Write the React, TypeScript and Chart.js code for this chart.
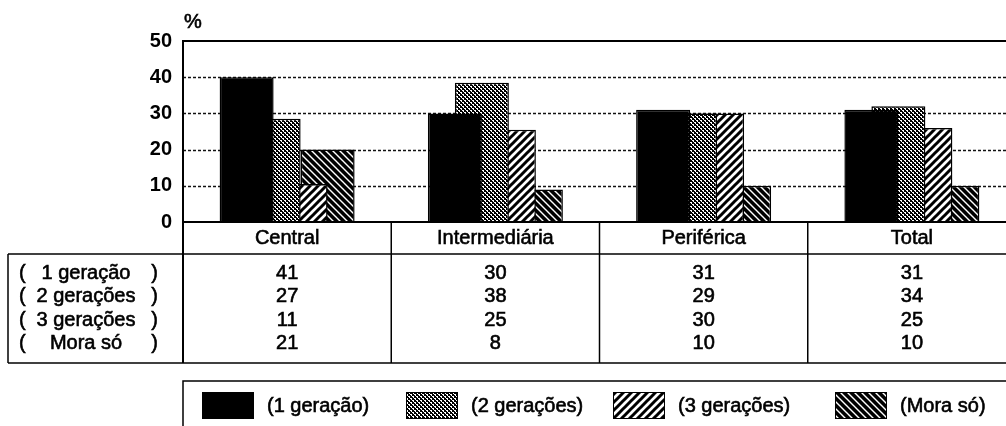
import React, { useEffect, useRef } from 'react';
import { Chart, registerables } from 'chart.js';

Chart.register(...registerables);

// ---- data ----
const categories = ['Central', 'Intermediária', 'Periférica', 'Total'];
const legendLabels = ['(1 geração)', '(2 gerações)', '(3 gerações)', '(Mora só)'];
const rowLabels = ['1 geração', '2 gerações', '3 gerações', 'Mora só'];

// bar heights as drawn
const bars1Geracao = [40, 30, 31, 31];
const bars2Geracoes = [28.5, 38.5, 30, 32];
const bars3Geracoes = [10.5, 25.5, 30, 26];
const barsMoraSo = [20, 9, 10, 10];

// values printed in the table
const table1Geracao = [41, 30, 31, 31];
const table2Geracoes = [27, 38, 29, 34];
const table3Geracoes = [11, 25, 30, 25];
const tableMoraSo = [21, 8, 10, 10];

const yTickValues = [0, 10, 20, 30, 40, 50];
const gridValues = [10, 20, 30, 40];

const FONT = '"Liberation Sans", Arial, Helvetica, sans-serif';
const CW = 1030;
const CH = 426;

function makePatterns() {
  const mk = (size: number, draw: (c: CanvasRenderingContext2D) => void) => {
    const cv = document.createElement('canvas');
    cv.width = size;
    cv.height = size;
    const c = cv.getContext('2d')!;
    draw(c);
    return c.createPattern(cv, 'repeat')!;
  };
  const mesh = mk(4, (c) => {
    c.fillStyle = '#000';
    c.fillRect(0, 0, 4, 4);
    c.fillStyle = '#fff';
    c.fillRect(0, 0, 2, 1);
    c.fillRect(2, 2, 2, 1);
    c.fillRect(1, 1, 1, 1);
    c.fillRect(3, 3, 1, 1);
  });
  const slash = mk(8, (c) => {
    c.fillStyle = '#fff';
    c.fillRect(0, 0, 8, 8);
    c.strokeStyle = '#000';
    c.lineWidth = 3;
    c.beginPath();
    c.moveTo(-1, 9); c.lineTo(9, -1);
    c.moveTo(-5, 5); c.lineTo(5, -5);
    c.moveTo(3, 13); c.lineTo(13, 3);
    c.stroke();
  });
  const back = mk(7, (c) => {
    c.fillStyle = '#000';
    c.fillRect(0, 0, 7, 7);
    c.strokeStyle = '#fff';
    c.lineWidth = 1.4;
    c.beginPath();
    c.moveTo(-1, -1); c.lineTo(8, 8);
    c.moveTo(-4.5, 2.5); c.lineTo(2.5, 9.5);
    c.moveTo(2.5, -4.5); c.lineTo(9.5, 2.5);
    c.stroke();
  });
  return { solid: '#000', mesh, slash, back };
}

export default function App() {
  const ref = useRef<HTMLCanvasElement>(null);

  useEffect(() => {
    const canvas = ref.current!;
    const p = makePatterns();
    const fills: any[] = [p.solid, p.mesh, p.slash, p.back];
    const tableRows = [table1Geracao, table2Geracoes, table3Geracoes, tableMoraSo];

    const overlay = {
      id: 'overlay',
      beforeDatasetsDraw(chart: any) {
        const { ctx, chartArea, scales } = chart;
        const y = scales.y;
        ctx.save();
        ctx.strokeStyle = '#111';
        ctx.lineWidth = 1.5;
        ctx.setLineDash([3, 2]);
        for (const v of gridValues) {
          const py = Math.round(y.getPixelForValue(v)) + 0.5;
          ctx.beginPath();
          ctx.moveTo(chartArea.left, py);
          ctx.lineTo(CW, py);
          ctx.stroke();
        }
        ctx.restore();
      },
      afterDraw(chart: any) {
        const { ctx, chartArea, scales } = chart;
        const x = scales.x;
        const y = scales.y;
        const left = chartArea.left;
        const top = y.getPixelForValue(50);
        const zero = y.getPixelForValue(0);
        const headerBottom = 254;
        const tableBottom = 363;
        const line = (x1: number, y1: number, x2: number, y2: number, w: number) => {
          ctx.lineWidth = w;
          ctx.beginPath();
          ctx.moveTo(x1, y1);
          ctx.lineTo(x2, y2);
          ctx.stroke();
        };
        const text = (s: string, tx: number, ty: number) => {
          ctx.fillText(s, tx, ty);
          ctx.lineWidth = 0.6;
          ctx.strokeText(s, tx, ty);
        };
        ctx.save();
        ctx.strokeStyle = '#000';
        ctx.fillStyle = '#000';
        ctx.setLineDash([]);
        // frame
        line(left, top, CW, top, 2);
        line(left, zero, CW, zero, 2);
        line(left, top - 1, left, tableBottom, 2);
        // table lines
        line(8, headerBottom, CW, headerBottom, 1.5);
        line(8, tableBottom, CW, tableBottom, 1.5);
        line(8, headerBottom, 8, tableBottom, 1.5);
        for (let i = 0; i < categories.length - 1; i++) {
          const bx = (x.getPixelForValue(i) + x.getPixelForValue(i + 1)) / 2;
          line(bx, zero, bx, tableBottom, 1.5);
        }
        ctx.font = `20px ${FONT}`;
        ctx.textBaseline = 'middle';
        ctx.textAlign = 'left';
        text('%', left + 1, 22);
        // category labels
        ctx.textAlign = 'center';
        categories.forEach((c, i) => text(c, x.getPixelForValue(i), 238));
        // table values
        const rowY = [273, 296.5, 320, 343.5];
        tableRows.forEach((row, r) => {
          ctx.textAlign = 'center';
          row.forEach((v, i) => text(String(v), x.getPixelForValue(i), rowY[r]));
          ctx.textAlign = 'left';
          text('(', 19, rowY[r]);
          ctx.textAlign = 'right';
          text(')', 158, rowY[r]);
          ctx.textAlign = 'center';
          text(rowLabels[r], 86, rowY[r]);
        });
        // legend box
        ctx.lineWidth = 1.5;
        ctx.strokeRect(left, 381, CW, 100);
        const swX = [202, 406, 613, 835];
        ctx.textAlign = 'left';
        legendLabels.forEach((lab, i) => {
          ctx.fillStyle = fills[i];
          ctx.fillRect(swX[i], 392, 52, 27);
          ctx.lineWidth = 1;
          ctx.strokeRect(swX[i] + 0.5, 392.5, 51, 26);
          ctx.fillStyle = '#000';
          text(lab, swX[i] + 65, 406);
        });
        ctx.restore();
      },
    };

    const mkDs = (label: string, data: number[], i: number) => ({
      label,
      data,
      backgroundColor: fills[i],
      borderColor: '#000',
      borderWidth: 1.5,
      borderSkipped: 'start',
      categoryPercentage: 0.5186,
      barPercentage: 2.0,
    });

    const chart = new Chart(canvas, {
      type: 'bar',
      data: {
        labels: categories,
        datasets: [
          mkDs(legendLabels[0], bars1Geracao, 0),
          mkDs(legendLabels[1], bars2Geracoes, 1),
          mkDs(legendLabels[2], bars3Geracoes, 2),
          mkDs(legendLabels[3], barsMoraSo, 3),
        ] as any,
      },
      options: {
        responsive: false,
        animation: false,
        devicePixelRatio: 1,
        layout: { padding: { left: 0, top: 41, right: CW - 1016, bottom: CH - 222 } },
        plugins: { legend: { display: false }, tooltip: { enabled: false } },
        scales: {
          x: { display: false },
          y: {
            min: 0,
            max: 50,
            afterFit: (s: any) => { s.width = 183; },
            afterBuildTicks: (s: any) => { s.ticks = yTickValues.map((v) => ({ value: v })); },
            grid: { display: false, drawTicks: false },
            border: { display: false },
            ticks: {
              padding: 11,
              color: '#000',
              font: { family: FONT, size: 20, weight: 'bold' },
              autoSkip: false,
            },
          },
        },
      },
      plugins: [overlay],
    } as any);
    return () => chart.destroy();
  }, []);

  return (
    <div style={{ position: 'absolute', left: 0, top: 0, width: 1006, height: 426, overflow: 'hidden', background: '#fff' }}>
      <canvas ref={ref} width={CW} height={CH} style={{ display: 'block', width: CW, height: CH }} />
    </div>
  );
}
